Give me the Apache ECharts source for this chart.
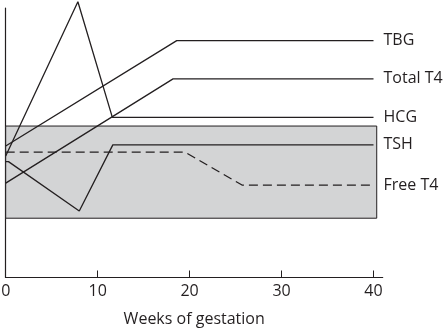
<!DOCTYPE html>
<html>
<head>
<meta charset="utf-8">
<style>html,body{margin:0;padding:0;background:#fff}#chart{width:446px;height:330px}</style>
<script src="https://cdn.jsdelivr.net/npm/echarts@6/dist/echarts.min.js"></script>
</head>
<body>
<div id="chart"></div>
<script>
// Week ticks shown on the x axis
const weekTicks = [0, 10, 20, 30, 40];

// Relative levels (arbitrary units) across gestation: [week, level]
const tbg     = [[0, 48.8], [18.6, 87.9], [40, 87.9]];
const totalT4 = [[0, 35.0], [18.2, 73.7], [40, 73.7]];
const hcg     = [[0, 45.1], [7.85, 102.3], [11.6, 59.4], [40, 59.4]];
const tsh     = [[0, 43.0], [0.3, 43.0], [8.0, 24.7], [11.65, 49.2], [40, 49.2]];
const freeT4  = [[0, 46.5], [19.5, 46.5], [25.7, 34.3], [40, 34.3]];

// Shaded reference range
const normalRange = { fromWeek: 0, toWeek: 40.35, low: 22.0, high: 56.2 };

const INK = '#231f20';
const FONT = 'Open Sans';

function lineSeries(name, data, dashed) {
  return {
    name: name,
    type: 'line',
    data: data,
    symbol: 'none',
    clip: false,
    z: 3,
    lineStyle: { color: INK, width: 1.3, type: dashed ? [9, 5] : 'solid' },
    endLabel: {
      show: true,
      formatter: name,
      distance: 10,
      color: INK,
      fontFamily: FONT,
      fontSize: 16
    },
    animation: false
  };
}

const chart = echarts.init(document.getElementById('chart'));
chart.setOption({
  animation: false,
  grid: { left: 5.7, right: 63.3, top: 8, bottom: 52.5, containLabel: false, outerBoundsMode: 'none' },
  xAxis: {
    type: 'value',
    min: 0,
    max: 41,
    name: 'Weeks of gestation',
    nameLocation: 'middle',
    nameGap: 34,
    nameTextStyle: { color: INK, fontFamily: FONT, fontSize: 16 },
    axisLine: { lineStyle: { color: INK, width: 1.2 } },
    axisTick: { show: true, inside: true, length: 7, customValues: weekTicks, lineStyle: { color: INK, width: 1 } },
    axisLabel: { customValues: weekTicks, color: INK, fontFamily: FONT, fontSize: 16, margin: 6 },
    splitLine: { show: false }
  },
  yAxis: {
    type: 'value',
    min: 0,
    max: 100,
    axisLine: { show: true, lineStyle: { color: INK, width: 1.2 } },
    axisTick: { show: false },
    axisLabel: { show: false },
    splitLine: { show: false }
  },
  series: [
    {
      type: 'line',
      data: [],
      z: 1,
      silent: true,
      markArea: {
        silent: true,
        itemStyle: { color: '#d3d4d5', borderColor: INK, borderWidth: 1 },
        data: [[
          { xAxis: normalRange.fromWeek, yAxis: normalRange.low },
          { xAxis: normalRange.toWeek, yAxis: normalRange.high }
        ]]
      }
    },
    lineSeries('TBG', tbg, false),
    lineSeries('Total T4', totalT4, false),
    lineSeries('HCG', hcg, false),
    lineSeries('TSH', tsh, false),
    lineSeries('Free T4', freeT4, true)
  ]
});
</script>
</body>
</html>
